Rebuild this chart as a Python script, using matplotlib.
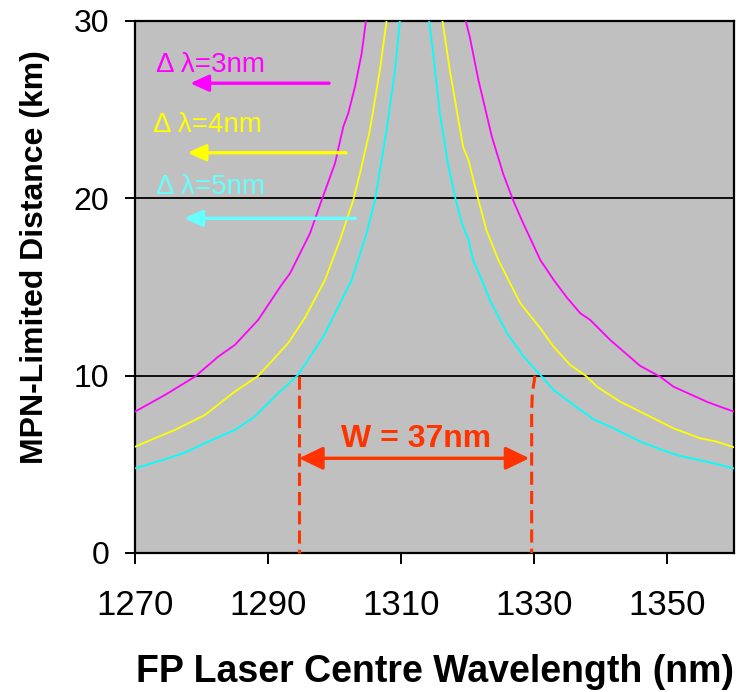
import matplotlib
matplotlib.use("Agg")
import matplotlib.pyplot as plt

# ---------------- data ----------------
mag_left_x = [1270, 1274.5, 1279.0, 1282.5, 1285.0, 1288.5, 1292.0, 1293.3, 1294.8, 1296.3,
              1298.05, 1300.05, 1301.3, 1302.05, 1303.06, 1304.06, 1304.7]
mag_left_y = [7.97, 8.91, 9.94, 11.07, 11.73, 13.14, 15.11, 15.77, 16.9, 18.03,
              19.9, 21.97, 24.04, 24.8, 26.3, 28.18, 30.0]
mag_right_x = [1319.7, 1320.3, 1321.6, 1323.6, 1325.3, 1326.8, 1328.1, 1330.9, 1332.9, 1334.9,
               1336.9, 1338.4, 1341.4, 1345.9, 1348.9, 1350.9, 1355.9, 1357.9, 1360]
mag_right_y = [30.0, 29.1, 26.67, 23.5, 21.4, 19.9, 18.78, 16.52, 15.4, 14.4,
               13.52, 13.14, 12.01, 10.55, 9.94, 9.38, 8.53, 8.25, 7.97]

yel_left_x = [1270, 1273.0, 1276.0, 1280.5, 1285.0, 1288.5, 1293.0, 1295.5, 1298.55, 1300.8,
              1302.8, 1303.8, 1305.3, 1306.8, 1307.8]
yel_left_y = [5.99, 6.47, 6.94, 7.78, 9.10, 9.98, 11.83, 13.24, 15.4, 17.65,
              19.9, 21.41, 23.85, 27.24, 30.0]
yel_right_x = [1316.2, 1317.3, 1318.6, 1319.3, 1320.1, 1321.6, 1322.8, 1324.6, 1326.1, 1327.9,
               1330.9, 1332.9, 1335.4, 1337.9, 1339.4, 1342.9, 1345.9, 1350.9, 1354.9, 1357.4, 1360]
yel_right_y = [30.0, 27.24, 24.4, 22.9, 22.16, 19.9, 18.2, 16.52, 15.4, 14.08,
               12.67, 11.63, 10.6, 9.94, 9.38, 8.53, 7.97, 7.03, 6.47, 6.28, 5.96]

cyn_left_x = [1270, 1274.5, 1277.5, 1280.5, 1285.0, 1288.0, 1291.5, 1294.5, 1298.3, 1302.56,
              1304.8, 1306.06, 1307.8, 1309.07, 1309.8]
cyn_left_y = [4.77, 5.28, 5.66, 6.19, 6.94, 7.69, 9.0, 10.04, 12.2, 15.4,
              18.03, 19.9, 23.85, 27.24, 30.0]
cyn_right_x = [1314.2, 1314.8, 1315.8, 1317.1, 1318.2, 1319.1, 1320.1, 1320.8, 1322.1, 1323.3,
               1325.9, 1328.4, 1330.9, 1332.9, 1335.9, 1338.9, 1341.9, 1345.9, 1348.9, 1351.9,
               1355.9, 1360]
cyn_right_y = [30.0, 28.18, 24.8, 21.79, 19.9, 18.6, 17.65, 16.52, 15.4, 14.27,
               12.39, 11.07, 10.04, 9.19, 8.35, 7.54, 7.03, 6.28, 5.85, 5.47,
               5.15, 4.77]

series_labels = ["\u0394 \u03bb=3nm", "\u0394 \u03bb=4nm", "\u0394 \u03bb=5nm"]
x_ticks = [1270, 1290, 1310, 1330, 1350]
y_ticks = [0, 10, 20, 30]

w_left_x = [1294.65, 1294.65]
w_left_y = [10, 0]
w_right_x = [1330.1, 1329.7, 1329.6, 1329.6]
w_right_y = [10, 9.0, 8.0, 0]
w_label = "W = 37nm"

# ---------------- figure ----------------
FONT = ["Liberation Sans", "DejaVu Sans"]
plt.rcParams["font.family"] = FONT

fig = plt.figure(figsize=(7.36, 6.92), dpi=100)
ax = fig.add_axes([0.1834, 0.2009, 0.8139, 0.7688])
ax.set_facecolor("#C0C0C0")
ax.set_xlim(1270, 1360)
ax.set_ylim(0, 30)

for yv in [10, 20]:
    ax.axhline(yv, color="black", lw=1.3, zorder=1)

lw_c = 1.3
ax.plot(mag_left_x, mag_left_y, color="#FF00FF", lw=lw_c, zorder=3)
ax.plot(mag_right_x, mag_right_y, color="#FF00FF", lw=lw_c, zorder=3)
ax.plot(yel_left_x, yel_left_y, color="#FFFF00", lw=lw_c, zorder=3)
ax.plot(yel_right_x, yel_right_y, color="#FFFF00", lw=lw_c, zorder=3)
ax.plot(cyn_left_x, cyn_left_y, color="#00FFFF", lw=lw_c, zorder=3)
ax.plot(cyn_right_x, cyn_right_y, color="#00FFFF", lw=lw_c, zorder=3)

# series labels with arrows
lab_cols = ["#FF00FF", "#FFFF00", "#66FFFF"]
lab_pos = [(1273.2, 27.12), (1272.7, 23.76), (1273.2, 20.24)]
arr_pos = [((1299.15, 26.49), (1278.3, 26.49)),
           ((1301.7, 22.57), (1277.9, 22.57)),
           ((1303.1, 18.87), (1277.4, 18.87))]
for lab, col, (tx, ty), (a0, a1) in zip(series_labels, lab_cols, lab_pos, arr_pos):
    ax.text(tx, ty, lab, color=col, fontsize=20, ha="left", va="baseline", zorder=5)
    ax.annotate("", xy=a1, xytext=a0,
                arrowprops=dict(arrowstyle="-|>,head_length=1.1,head_width=0.5",
                                color=col, lw=2.4, shrinkA=0, shrinkB=0,
                                mutation_scale=10), zorder=5)

# W annotation
wcol = "#FF3300"
ax.plot(w_left_x, w_left_y, color=wcol, lw=2.2, dashes=[4.3, 2.0], zorder=4, clip_on=False)
ax.plot(w_right_x, w_right_y, color=wcol, lw=2.2, dashes=[4.3, 2.0], zorder=4, clip_on=False)
ax.annotate("", xy=(1329.25, 5.34), xytext=(1294.65, 5.34),
            arrowprops=dict(arrowstyle="<|-|>,head_length=1.45,head_width=0.7",
                            color=wcol, lw=2.4, shrinkA=0, shrinkB=0, mutation_scale=10),
            zorder=5)
ax.text(1312.27, 5.99, w_label, color=wcol, fontsize=23, fontweight="bold",
        ha="center", va="baseline", zorder=5)

# axes styling
for sp in ax.spines.values():
    sp.set_linewidth(1.6)
    sp.set_color("black")
ax.set_xticks(x_ticks)
ax.set_yticks(y_ticks)
ax.tick_params(axis="x", direction="out", length=8, width=1.4, labelsize=25, pad=18)
ax.tick_params(axis="y", direction="out", length=7.5, width=1.4, labelsize=23, pad=11)

fig.text(434.5 / 736, 1 - 681.7 / 692, "FP Laser Centre Wavelength (nm)",
         fontsize=27, fontweight="bold", ha="center", va="baseline")
fig.text(43.3 / 736, 1 - 257.5 / 692, "MPN-Limited Distance (km)",
         fontsize=23, fontweight="bold", ha="center", va="baseline",
         rotation=90, rotation_mode="anchor")

fig.savefig("out.png", dpi=100)
